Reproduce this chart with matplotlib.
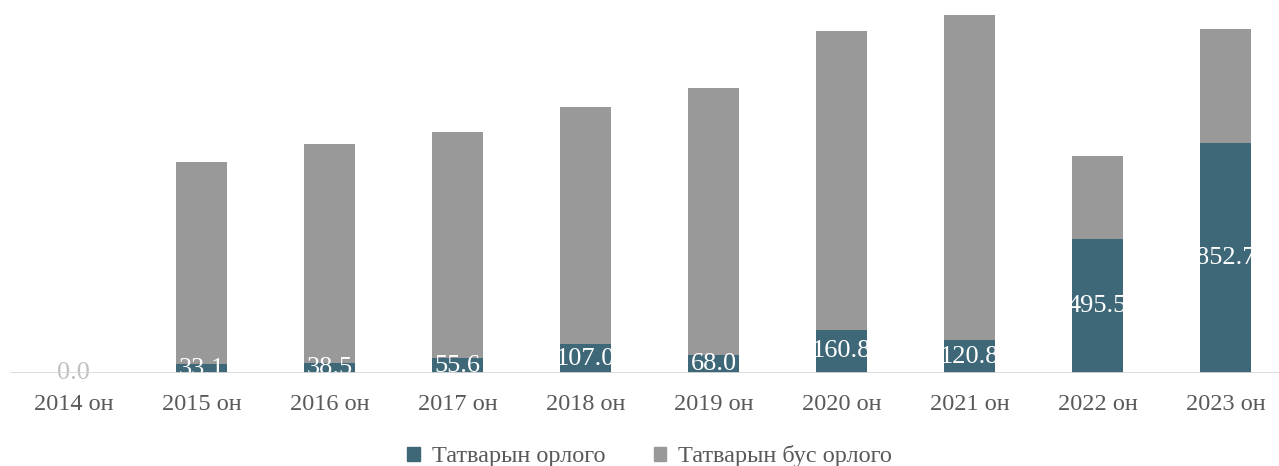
import numpy as np
import matplotlib.pyplot as plt
from matplotlib.patches import Patch

plt.rcParams['font.family'] = ['Liberation Serif', 'DejaVu Serif']

years = ["2014 он", "2015 он", "2016 он", "2017 он", "2018 он",
         "2019 он", "2020 он", "2021 он", "2022 он", "2023 он"]
tax = [0.0, 33.1, 38.5, 55.6, 107.0, 68.0, 160.8, 120.8, 495.5, 852.7]
non_tax = [0, 749, 811, 838, 879, 989, 1107, 1207, 309, 423]

teal = "#3E6878"
gray = "#999999"

fig = plt.figure(figsize=(12.79, 4.66), dpi=100)
ax = fig.add_axes([9.5 / 1279, 93 / 466, 1280 / 1279, 373 / 466])

x = np.arange(len(years))
ax.bar(x, tax, width=0.4, color=teal, zorder=2)
ax.bar(x, non_tax, width=0.4, bottom=tax, color=gray, zorder=2)

for xi, v in zip(x, tax):
    col = "#BFBFBF" if v == 0 else "white"
    ax.text(xi, v / 2, f"{v:.1f}", ha="center", va="center",
            color=col, fontsize=19, zorder=3)

ax.axhline(0, color="#D9D9D9", linewidth=2, zorder=4)
ax.set_xlim(-0.5, len(years) - 0.5)
ax.set_ylim(0, 1383)
ax.set_xticks(x)
ax.set_xticklabels(years, fontsize=17.5, color="#595959")
ax.tick_params(axis="x", length=0, pad=15)
ax.set_yticks([])
for s in ax.spines.values():
    s.set_visible(False)
ax.patch.set_alpha(0)

handles = [Patch(color=teal, label="Татварын орлого"),
           Patch(color=gray, label="Татварын бус орлого")]
leg = fig.legend(handles=handles, loc="lower center", bbox_to_anchor=(0.508, -0.05),
                 ncol=2, frameon=False, fontsize=17.5, handlelength=0.5,
                 handleheight=0.5, handletextpad=0.5, columnspacing=2.0)
for t in leg.get_texts():
    t.set_color("#595959")

fig.savefig("out.png", dpi=100)
